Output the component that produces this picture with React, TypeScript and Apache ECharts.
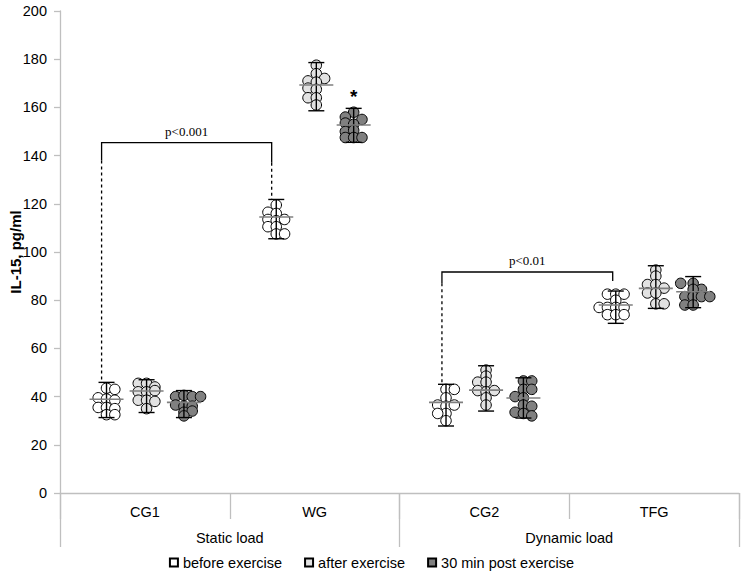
import React, { useEffect, useRef } from 'react';
import * as echarts from 'echarts';

// ---------- data ----------
const categories = ['CG1', 'WG', 'CG2', 'TFG'];
const loadGroups = ['Static load', 'Dynamic load'];
const seriesNames = ['before exercise', 'after exercise', '30 min post exercise'];
const yMin = 0;
const yMax = 200;
const yInterval = 20;

// individual values per category: [value, dot column within the cluster]
const beforePoints = [
  [[43.5, 0], [43, 1], [39.5, -1], [39, 0], [38.5, 1], [35.5, -1], [35.5, 0], [35, 1], [32.5, 0], [32.5, 1]],
  [[119.5, 0], [116.5, -1], [116, 0], [113.5, -1], [113, 0], [113.5, 1], [110.5, -1], [110.5, 0], [107.5, 0], [107.5, 1]],
  [[43, 0], [43, 1], [39.5, 0], [36.5, -1], [36, 0], [36.5, 1], [33, 0], [30, 0], [33, -1]],
  [[82.5, -1], [82.5, 0], [82.5, 1], [80, 0], [77, -2], [77, -1], [77, 0], [77, 1], [74, -1], [74, 0], [74, 1]],
];
const afterPoints = [
  [[45.5, -1], [45.5, 0], [44, 1], [42, -1], [42, 0], [42.5, 1], [38.5, -1], [38.5, 0], [38, 1], [35, 0]],
  [[177.5, 0], [174, 0], [172, 1], [171, -1], [170.5, 0], [168, -1], [167.5, 0], [164, -1], [164, 0], [161, 0]],
  [[51, 0], [48.5, 0], [46, -1], [46, 0], [42.5, -1], [42, 0], [42.5, 1], [39.5, 0], [36.5, 0]],
  [[92.5, 0], [90, 0], [86.5, -1], [86.5, 0], [85, 1], [83, -1], [83, 0], [78.5, 0], [78.5, 1]],
];
const postPoints = [
  [[40, -1], [40.5, 0], [40, 1], [40, 2], [36.5, -1], [36, 0], [36, 1], [33.5, 0], [34, 1], [32, 0]],
  [[158, 0], [156, -1], [155, 1], [153.5, -1], [153, 0], [150, -1], [150.5, 0], [147.5, -1], [147.5, 0], [147.5, 1]],
  [[46.5, 0], [46.5, 1], [43, 0], [43, 1], [40, -1], [39.5, 0], [36.5, 0], [36, 1], [33.5, -1], [33, 0], [32, 1]],
  [[87, -1.5], [87, 0], [84.5, 1], [84.5, 0], [81.5, -1], [81.5, 0], [81.5, 1], [81.5, 2], [78, -1], [78, 0]],
];

// group means and error-bar ends per category
const beforeMean = [38.9, 114.5, 37.6, 78.0];
const beforeLow = [31.3, 105.5, 27.8, 70.4];
const beforeHigh = [45.9, 121.8, 45.1, 83.8];
const afterMean = [42.3, 169.3, 42.7, 84.9];
const afterLow = [33.4, 158.6, 34.0, 76.6];
const afterHigh = [47.0, 178.6, 52.8, 94.3];
const postMean = [37.6, 152.7, 39.4, 83.5];
const postLow = [31.3, 145.5, 31.1, 76.9];
const postHigh = [42.5, 159.6, 47.8, 89.8];

// significance brackets: [xLeft, xRight, top, leftSolidTo, leftDashTo, rightSolidTo, rightDashTo]
const bracketValues = [
  [0.245, 1.247, 145.4, 138, 46, 137, 122],
  [2.25, 3.256, 91.7, 87, 46, 88, 88],
];
const bracketLabels = ['p<0.001', 'p<0.01'];
// asterisk marks: [category index, group index]
const asterisks = [[1, 2]];

// ---------- layout / style ----------
const fills = ['#ffffff', '#e2e2e2', '#808080'];
const groupOffset = [-0.226, 0.01, 0.23];
const colStep = 0.049;
const gridLine = '#bfbfbf';
const sans = '"Liberation Sans", Arial, sans-serif';
const serif = '"Liberation Serif", "Times New Roman", serif';

export default function App() {
  const ref = useRef<HTMLDivElement>(null);

  useEffect(() => {
    if (!ref.current) return;
    const chart = echarts.init(ref.current, undefined, { renderer: 'svg' });

    const pointSets = [beforePoints, afterPoints, postPoints];
    const means = [beforeMean, afterMean, postMean];
    const lows = [beforeLow, afterLow, postLow];
    const highs = [beforeHigh, afterHigh, postHigh];

    const scatterSeries = seriesNames.map((name, g) => ({
      name,
      type: 'scatter',
      xAxisIndex: 2,
      yAxisIndex: 0,
      symbol: 'circle',
      symbolSize: 10.5,
      silent: true,
      z: 2,
      itemStyle: { color: fills[g], borderColor: '#000', borderWidth: 1, opacity: 1 },
      data: pointSets[g].flatMap((cluster, c) =>
        cluster.map(([v, col]) => [c + 0.5 + groupOffset[g] + col * colStep, v])
      ),
    }));

    const errorSeries = seriesNames.map((_, g) => ({
      type: 'custom',
      xAxisIndex: 2,
      yAxisIndex: 0,
      silent: true,
      z: 3,
      encode: { x: 0, y: 1 },
      data: categories.map((__, c) => [c + 0.5 + groupOffset[g], means[g][c], lows[g][c], highs[g][c]]),
      renderItem: (params: any, api: any) => {
        const x = api.value(0);
        const m = api.coord([x, api.value(1)]);
        const lo = api.coord([x, api.value(2)]);
        const hi = api.coord([x, api.value(3)]);
        const cap = 8;
        const half = 17;
        const black = { stroke: '#000', lineWidth: 1.4 };
        return {
          type: 'group',
          children: [
            { type: 'line', shape: { x1: lo[0], y1: lo[1], x2: hi[0], y2: hi[1] }, style: black },
            { type: 'line', shape: { x1: lo[0] - cap, y1: lo[1], x2: lo[0] + cap, y2: lo[1] }, style: black },
            { type: 'line', shape: { x1: hi[0] - cap, y1: hi[1], x2: hi[0] + cap, y2: hi[1] }, style: black },
            { type: 'line', shape: { x1: m[0] - half, y1: m[1], x2: m[0] + half, y2: m[1] }, style: { stroke: '#7f7f7f', lineWidth: 1.6 } },
          ],
        };
      },
    }));

    const bracketSeries = {
      type: 'custom',
      xAxisIndex: 2,
      yAxisIndex: 0,
      silent: true,
      z: 4,
      encode: { x: 0, y: 2 },
      data: bracketValues,
      renderItem: (params: any, api: any) => {
        const xl = api.value(0);
        const xr = api.value(1);
        const top = api.value(2);
        const tl = api.coord([xl, top]);
        const tr = api.coord([xr, top]);
        const ls = api.coord([xl, api.value(3)]);
        const ld = api.coord([xl, api.value(4)]);
        const rs = api.coord([xr, api.value(5)]);
        const rd = api.coord([xr, api.value(6)]);
        const solid = { stroke: '#000', lineWidth: 1.3, fill: 'none' };
        const dashed = { stroke: '#000', lineWidth: 1.3, lineDash: [3, 3] };
        const children: any[] = [
          { type: 'polyline', shape: { points: [ls, tl, tr, rs] }, style: solid },
          { type: 'line', shape: { x1: ls[0], y1: ls[1], x2: ld[0], y2: ld[1] }, style: dashed },
        ];
        if (rd[1] - rs[1] > 1) {
          children.push({ type: 'line', shape: { x1: rs[0], y1: rs[1], x2: rd[0], y2: rd[1] }, style: dashed });
        }
        children.push({
          type: 'text',
          x: (tl[0] + tr[0]) / 2,
          y: tl[1] - 5,
          style: {
            text: bracketLabels[params.dataIndex],
            fontFamily: serif,
            fontSize: 13,
            fill: '#000',
            align: 'center',
            verticalAlign: 'bottom',
          },
        });
        return { type: 'group', children };
      },
    };

    const asteriskSeries = {
      type: 'custom',
      xAxisIndex: 2,
      yAxisIndex: 0,
      silent: true,
      z: 4,
      encode: { x: 0, y: 1 },
      data: asterisks.map(([c, g]) => [c + 0.5 + groupOffset[g], highs[g][c]]),
      renderItem: (params: any, api: any) => {
        const p = api.coord([api.value(0), api.value(1)]);
        return {
          type: 'text',
          x: p[0],
          y: p[1] - 2,
          style: {
            text: '*',
            fontFamily: sans,
            fontWeight: 'bold',
            fontSize: 19,
            fill: '#000',
            align: 'center',
            verticalAlign: 'bottom',
          },
        };
      },
    };

    chart.setOption({
      animation: false,
      backgroundColor: '#ffffff',
      grid: { left: 60, right: 4, top: 11, bottom: 83, containLabel: false, outerBoundsMode: 'none' },
      legend: {
        data: seriesNames,
        left: 'center',
        top: 550,
        icon: 'rect',
        itemWidth: 8,
        itemHeight: 8,
        itemGap: 22,
        selectedMode: false,
        textStyle: { fontFamily: sans, fontSize: 14.5, color: '#000' },
      },
      xAxis: [
        {
          type: 'category',
          data: categories,
          position: 'bottom',
          axisLine: { show: true, lineStyle: { color: gridLine, width: 1.3 } },
          axisTick: { show: true, length: 26, lineStyle: { color: gridLine, width: 1.3 } },
          axisLabel: { fontFamily: sans, fontSize: 14.5, color: '#000', margin: 11.5 },
          splitLine: { show: false },
        },
        {
          type: 'category',
          data: loadGroups,
          position: 'bottom',
          axisLine: { show: false },
          axisTick: { show: true, length: 54, lineStyle: { color: gridLine, width: 1.3 } },
          axisLabel: { fontFamily: sans, fontSize: 14.5, color: '#000', margin: 37.5 },
          splitLine: { show: false },
        },
        { type: 'value', min: 0, max: 4, show: false },
      ],
      yAxis: {
        type: 'value',
        min: yMin,
        max: yMax,
        interval: yInterval,
        name: 'IL-15, pg/ml',
        nameLocation: 'middle',
        nameGap: 37,
        nameMoveOverlap: false,
        nameTextStyle: { fontFamily: sans, fontSize: 15, fontWeight: 'bold', color: '#000' },
        axisLine: { show: true, lineStyle: { color: gridLine, width: 1.3 } },
        axisTick: { show: true, length: 6, lineStyle: { color: gridLine, width: 1.3 } },
        axisLabel: { fontFamily: sans, fontSize: 14.5, color: '#000', margin: 13 },
        splitLine: { show: false },
      },
      series: [...scatterSeries, ...errorSeries, bracketSeries, asteriskSeries],
    });

    return () => chart.dispose();
  }, []);

  return <div ref={ref} style={{ width: 743, height: 576, position: 'absolute', left: 0, top: 0 }} />;
}
